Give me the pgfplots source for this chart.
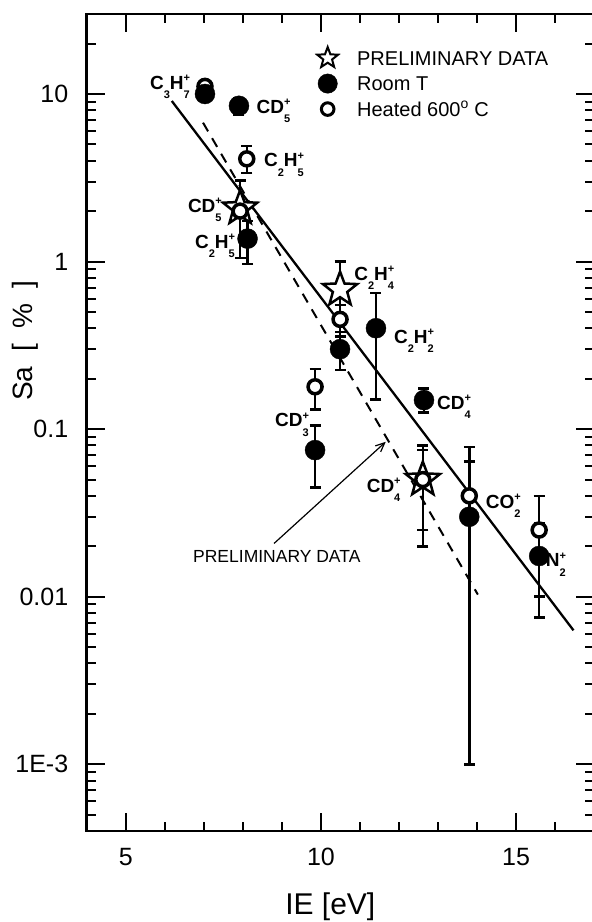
\documentclass[border=0pt]{standalone}
\usepackage{fontspec}
\setmainfont{Liberation Sans}
\usepackage{pgfplots}
\pgfplotsset{compat=1.18}
\usetikzlibrary{arrows.meta}

% outlined five-pointed star
\pgfdeclareplotmark{ostar}{%
  \pgfpathmoveto{\pgfpointpolar{90}{\pgfplotmarksize}}%
  \pgfpathlineto{\pgfpointpolar{126}{0.42\pgfplotmarksize}}%
  \pgfpathlineto{\pgfpointpolar{162}{\pgfplotmarksize}}%
  \pgfpathlineto{\pgfpointpolar{198}{0.42\pgfplotmarksize}}%
  \pgfpathlineto{\pgfpointpolar{234}{\pgfplotmarksize}}%
  \pgfpathlineto{\pgfpointpolar{270}{0.42\pgfplotmarksize}}%
  \pgfpathlineto{\pgfpointpolar{306}{\pgfplotmarksize}}%
  \pgfpathlineto{\pgfpointpolar{342}{0.42\pgfplotmarksize}}%
  \pgfpathlineto{\pgfpointpolar{18}{\pgfplotmarksize}}%
  \pgfpathlineto{\pgfpointpolar{54}{0.42\pgfplotmarksize}}%
  \pgfpathclose
  \pgfusepathqfillstroke}

% ion label: stacked subscript / superscript
\newcommand{\ion}[2]{\makebox[0pt][l]{\raisebox{0.4em}{\fontsize{11}{11}\selectfont #2}}\raisebox{-0.49em}{\fontsize{11}{11}\selectfont #1}}

\tikzset{lab/.style={anchor=base west, inner sep=0pt, font=\bfseries\fontsize{19}{19}\selectfont}}
\pgfplotsset{errs/.style={error bars/.cd, y dir=both, y explicit,
    error bar style={black, line width=2.5pt},
    error mark options={black, line width=2.5pt, mark size=5.5pt, rotate=90}}}

\begin{document}
\begin{tikzpicture}
\begin{axis}[
  scale only axis, width=507.5pt, height=817pt,
  xmin=4, xmax=17, ymin=4e-4, ymax=30, ymode=log,
  xtick={5,10,15}, xticklabels={5,10,15},
  minor xtick={6,7,8,9,11,12,13,14,16},
  ytick={0.001,0.01,0.1,1,10}, yticklabels={1E-3,0.01,0.1,1,10},
  minor ytick={0.0004,0.0005,0.0006,0.0007,0.0008,0.0009,
    0.002,0.003,0.004,0.005,0.006,0.007,0.008,0.009,
    0.02,0.03,0.04,0.05,0.06,0.07,0.08,0.09,
    0.2,0.3,0.4,0.5,0.6,0.7,0.8,0.9,
    2,3,4,5,6,7,8,9,20},
  tick align=inside,
  major tick length=18pt, minor tick length=9pt,
  every tick/.style={black, line width=2pt},
  axis line style={line width=2.5pt},
  tick label style={font=\fontsize{25}{25}\selectfont},
  xticklabel style={yshift=-14pt},
  yticklabel style={xshift=-15pt},
  xlabel={IE [eV]}, ylabel={Sa\hspace{0.54em}[\hspace{0.54em}\%\hspace{0.54em}]},
  every axis x label/.style={at={(rel axis cs:0.48,0)}, anchor=center, yshift=-76pt, font=\fontsize{30}{30}\selectfont},
  every axis y label/.style={at={(rel axis cs:0,0.6)}, xshift=-61pt, rotate=90, anchor=center, font=\fontsize{28}{28}\selectfont},
  legend style={at={(axis cs:9.9,19.1)}, anchor=north west, draw=none, fill=none,
    inner sep=0pt, row sep=5.5pt, column sep=19pt,
    font=\fontsize{20}{20}\selectfont,
    nodes={inner sep=0pt, text height=17pt, text depth=3pt}},
  legend cell align=left,
  legend image code/.code={\draw[#1] plot coordinates {(0pt,0pt)};},
]
\addlegendimage{mark=ostar, mark size=11pt, line width=2pt, mark options={fill=white, draw=black}}
\addlegendentry{PRELIMINARY DATA}
\addlegendimage{mark=*, mark size=9.7pt, mark options={fill=black, draw=black}}
\addlegendentry{Room T}
\addlegendimage{mark=*, mark size=6.3pt, line width=3pt, mark options={fill=white, draw=black}}
\addlegendentry{Heated 600\textsuperscript{o} C}

% fitted trends
\addplot[forget plot, black, line width=2.3pt] coordinates {(6.18,9.08) (16.47,0.0063)};
\addplot[forget plot, black, line width=2pt, dash pattern=on 10pt off 8pt] coordinates {(6.98,6.74) (14.02,0.0103)};

% preliminary data
\addplot[forget plot, only marks, mark=ostar, mark size=18pt,
  mark options={fill=white, draw=black, line width=2.5pt}] coordinates {(7.93,2.08)};
\addplot[forget plot, only marks, mark=ostar, mark size=18pt,
  mark options={fill=white, draw=black, line width=2.5pt}, errs]
  table[x=x, y=y, y error plus=ep, y error minus=em] {
x     y     ep    em
10.49 0.68  0.32  0.32
12.61 0.050 0.030 0.030
};

% heated 600 C
\addplot[forget plot, only marks, mark=*, mark size=7pt,
  mark options={fill=white, draw=black, line width=3.5pt}] coordinates {(7.03,11.1)};
\addplot[forget plot, only marks, mark=*, mark size=7pt,
  mark options={fill=white, draw=black, line width=3.5pt}, errs]
  table[x=x, y=y, y error plus=ep, y error minus=em] {
x     y     ep    em
7.93  2.0   1.04  0.95
8.10  4.1   0.8   0.73
9.85  0.179 0.049 0.048
10.49 0.452 0.10  0.072
12.61 0.050 0.025 0.025
13.80 0.040 0.038 0.039
15.59 0.025 0.015 0.015
};

% room temperature
\addplot[forget plot, only marks, mark=*, mark size=10pt,
  mark options={fill=black, draw=black}] coordinates {(7.03,10.0)};
\addplot[forget plot, only marks, mark=*, mark size=10pt,
  mark options={fill=black, draw=black}, errs]
  table[x=x, y=y, y error plus=ep, y error minus=em] {
x     y      ep    em
7.90  8.5    0.9   1.0
8.12  1.37   0.38  0.40
9.85  0.075  0.030 0.030
10.49 0.30   0.055 0.075
11.41 0.40   0.25  0.25
12.64 0.149  0.026 0.023
13.80 0.030  0.034 0.029
15.59 0.0175 0.010 0.010
};

% species labels
\node[lab] at (axis cs:5.62,10.7)   {C\ion{3}{}H\ion{7}{+}};
\node[lab] at (axis cs:8.35,7.67)   {CD\ion{5}{+}};
\node[lab] at (axis cs:8.54,3.68)   {C\ion{2}{}H\ion{5}{+}};
\node[lab] at (axis cs:6.59,1.97)   {CD\ion{5}{+}};
\node[lab] at (axis cs:6.77,1.20)   {C\ion{2}{}H\ion{5}{+}};
\node[lab] at (axis cs:10.85,0.776) {C\ion{2}{}H\ion{4}{+}};
\node[lab] at (axis cs:11.87,0.325) {C\ion{2}{}H\ion{2}{+}};
\node[lab] at (axis cs:12.97,0.131) {CD\ion{4}{+}};
\node[lab] at (axis cs:8.82,0.103)  {CD\ion{3}{+}};
\node[lab] at (axis cs:11.17,0.0419) {CD\ion{4}{+}};
\node[lab] at (axis cs:14.22,0.0336) {CO\ion{2}{+}};
\node[lab] at (axis cs:15.76,0.0151) {N\ion{2}{+}};

% annotation of the dashed trend
\draw[black, line width=1.2pt, -{Straight Barb[length=9pt, width=8pt]}]
  (axis cs:8.80,0.0208) -- (axis cs:11.66,0.084);
\node[font=\fontsize{17.5}{17.5}\selectfont] at (axis cs:8.87,0.0173) {PRELIMINARY DATA};
\end{axis}
\pgfresetboundingbox
\path (-86.7pt,-91pt) rectangle (505.3pt,831pt);
\end{tikzpicture}
\end{document}
